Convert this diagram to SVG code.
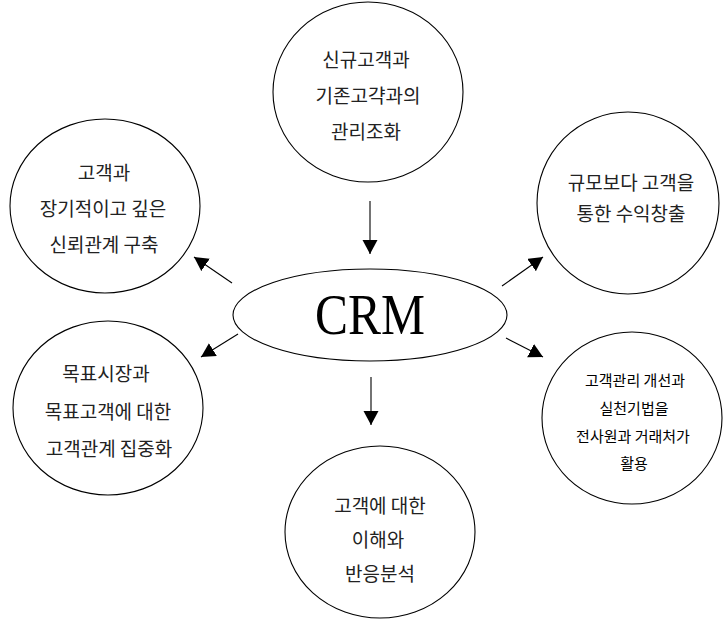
<svg xmlns="http://www.w3.org/2000/svg" width="725" height="621" viewBox="0 0 725 621">
<style>
.n{fill:#fff;stroke:#000;stroke-width:1.1}
.t{font-family:"Noto Sans CJK KR","Noto Sans",sans-serif;font-size:19px;fill:#222;text-anchor:middle}
.s{font-family:"Noto Sans CJK KR","Noto Sans",sans-serif;font-size:15px;fill:#000;text-anchor:middle}
.c{stroke:#000;stroke-width:1.1;fill:none;marker-end:url(#ah)}
</style>
<defs>
<marker id="ah" markerUnits="userSpaceOnUse" markerWidth="16" markerHeight="16" refX="14" refY="7.5" orient="auto">
<path d="M0,0 L14,7.5 L0,15 z" fill="#000"/>
</marker>
</defs>
<rect width="725" height="621" fill="#fff"/>
<g id="connectors">
<line class="c" x1="370" y1="201" x2="370" y2="254"/>
<line class="c" x1="232" y1="283" x2="194" y2="257"/>
<line class="c" x1="502" y1="286" x2="543" y2="257"/>
<line class="c" x1="238" y1="334" x2="201" y2="357"/>
<line class="c" x1="506" y1="338" x2="543" y2="357"/>
<line class="c" x1="371" y1="377" x2="371" y2="425"/>
</g>
<g id="crm">
<ellipse class="n" cx="370" cy="315" rx="137" ry="46"/>
<text x="370" y="334" font-family="Liberation Serif,serif" font-size="58" text-anchor="middle" textLength="110" lengthAdjust="spacingAndGlyphs">CRM</text>
</g>
<g id="node-top">
<ellipse class="n" cx="368" cy="92" rx="95" ry="90"/>
<text class="t" x="366" y="67">신규고객과</text>
<text class="t" x="368" y="103">기존고갹과의</text>
<text class="t" x="366" y="139">관리조화</text>
</g>
<g id="node-topleft">
<ellipse class="n" cx="105" cy="206" rx="95" ry="87"/>
<text class="t" x="104" y="180">고객과</text>
<text class="t" x="103" y="216">장기적이고 깊은</text>
<text class="t" x="104" y="252">신뢰관계 구축</text>
</g>
<g id="node-topright">
<ellipse class="n" cx="628" cy="203" rx="91" ry="91"/>
<text class="t" x="631" y="190">규모보다 고객을</text>
<text class="t" x="631" y="221">통한 수익창출</text>
</g>
<g id="node-bottomleft">
<ellipse class="n" cx="108" cy="408" rx="95" ry="87"/>
<text class="t" x="106" y="381">목표시장과</text>
<text class="t" x="108" y="419">목표고객에 대한</text>
<text class="t" x="109" y="456">고객관계 집중화</text>
</g>
<g id="node-bottomright">
<ellipse class="n" cx="632" cy="418" rx="90" ry="86"/>
<text class="s" x="635" y="386">고객관리 개선과</text>
<text class="s" x="634" y="414">실천기법을</text>
<text class="s" x="633" y="442">전사원과 거래처가</text>
<text class="s" x="634" y="469">활용</text>
</g>
<g id="node-bottom">
<ellipse class="n" cx="380" cy="532" rx="95" ry="86"/>
<text class="t" x="380" y="513">고객에 대한</text>
<text class="t" x="378" y="547">이해와</text>
<text class="t" x="380" y="581">반응분석</text>
</g>
</svg>
